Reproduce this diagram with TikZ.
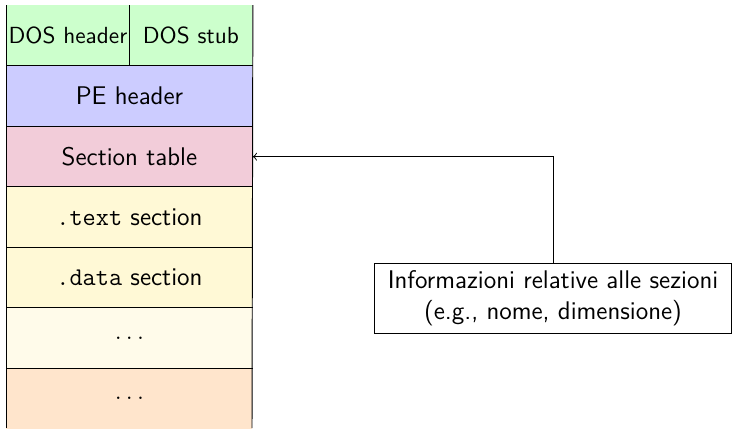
\documentclass[12pt,tikz,border=0pt]{standalone}
\definecolor{secyellow}{RGB}{255,249,214}
\definecolor{secpale}{RGB}{255,251,234}
\begin{document}
\begin{tikzpicture}[x=0.016529cm, y=-0.016529cm, font=\sffamily,
  row/.style={inner sep=0pt, minimum width=4.066cm, minimum height=1cm, anchor=north west},
  half/.style={inner sep=0pt, minimum width=2.033cm, minimum height=1cm, anchor=north west},
  sep/.style={line width=0.45pt},
  infobox/.style={draw, line width=0.45pt, align=center, inner sep=0pt,
    minimum width=5.884cm, minimum height=1.157cm}]
  \useasboundingbox (0,0) rectangle (732,428);

  % layers of the executable
  \node[half, fill=green!20] (doshdr) at (6,5) {\small DOS header};
  \node[half, fill=green!20] (dosstub) at (129,5) {\small DOS stub};
  \node[row, fill=blue!20] (pehdr) at (6,65.5) {PE header};
  \node[row, fill=purple!20] (secttab) at (6,126) {Section table};
  \node[row, fill=secyellow] (textsec) at (6,186.5) {\texttt{.text} section};
  \node[row, fill=secyellow] (datasec) at (6,247) {\texttt{.data} section};
  \node[row, fill=secpale] (more) at (6,307.5) {$\ldots$};
  \node[row, fill=orange!20] (rest) at (6,368) {$\ldots$};

  % outline and separators
  \draw[sep] (doshdr.north west) -- (6,428);
  \draw[sep] (dosstub.north east) -- (252,428);
  \draw[sep] (dosstub.north west) -- (dosstub.south west);
  \foreach \n in {pehdr, secttab, textsec, datasec, more, rest}
    \draw[sep] (\n.north west) -- (\n.north east);

  % note on the section table
  \node[infobox] (info) at (553,298) {Informazioni relative alle sezioni\\(e.g., nome, dimensione)};
  \draw[sep, ->] (info.north) |- (secttab.east);
\end{tikzpicture}
\end{document}
